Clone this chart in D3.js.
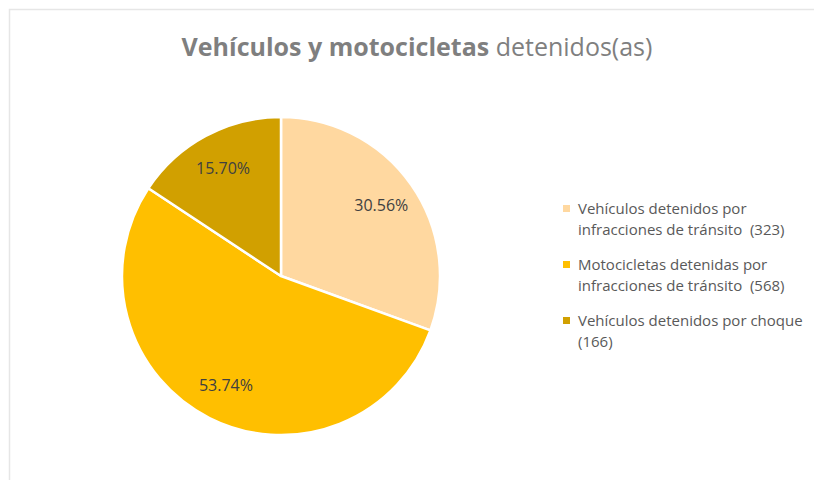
<!DOCTYPE html>
<html>
<head>
<meta charset="utf-8">
<script src="https://cdn.jsdelivr.net/npm/d3@7"></script>
<style>
  html, body { margin: 0; padding: 0; background: #fff; }
  svg { display: block; font-family: "Open Sans", "Noto Sans", sans-serif; }
</style>
</head>
<body>
<div id="chart"></div>
<script>
const categories = [
    ['Vehículos detenidos por', 'infracciones de tránsito\u00a0 (323)'],
    ['Motocicletas detenidas por', 'infracciones de tránsito\u00a0 (568)'],
    ['Vehículos detenidos por choque', '(166)'],
];
const values = [323, 568, 166];
const percentLabels = ['30.56%', '53.74%', '15.70%'];
const colors = ['#FFD8A0', '#FFBF00', '#D1A000'];

const width = 814;
const height = 480;
const cx = 281;
const cy = 276;
const radius = 159;

const svg = d3.select('#chart').append('svg')
    .attr('width', width)
    .attr('height', height);

// chart area border (only top & left visible in the crop)
svg.append('path')
    .attr('d', `M9.5,${height} V9.5 H${width}`)
    .attr('fill', 'none')
    .attr('stroke', '#e6e6e6')
    .attr('stroke-width', 1.5);

const title = svg.append('text')
    .attr('x', 417)
    .attr('y', 56)
    .attr('text-anchor', 'middle')
    .attr('fill', '#7f7f7f')
    .attr('font-size', 25);
title.append('tspan').attr('font-weight', 'bold').text('Vehículos y motocicletas');
title.append('tspan').text(' detenidos(as)');

const pie = d3.pie().sort(null).value(d => d);
const arcs = pie(values);
const arc = d3.arc().innerRadius(0).outerRadius(radius);
const labelArc = d3.arc().innerRadius(radius * 0.77).outerRadius(radius * 0.77);

const g = svg.append('g').attr('transform', `translate(${cx},${cy})`);

g.selectAll('path.slice')
    .data(arcs)
    .join('path')
    .attr('class', 'slice')
    .attr('d', arc)
    .attr('fill', (d, i) => colors[i])
    .attr('stroke', '#fff')
    .attr('stroke-width', 2.5)
    .attr('stroke-linejoin', 'round');

g.selectAll('text.pct')
    .data(arcs)
    .join('text')
    .attr('class', 'pct')
    .attr('transform', d => `translate(${labelArc.centroid(d)})`)
    .attr('text-anchor', 'middle')
    .attr('dy', '0.35em')
    .attr('font-size', 16)
    .attr('fill', '#404040')
    .text((d, i) => percentLabels[i]);

const legend = svg.append('g').attr('transform', 'translate(563,209)');
const item = legend.selectAll('g')
    .data(categories)
    .join('g')
    .attr('transform', (d, i) => `translate(0,${i * 56})`);

item.append('rect')
    .attr('x', 0).attr('y', -4)
    .attr('width', 7).attr('height', 7)
    .attr('fill', (d, i) => colors[i]);

item.append('text')
    .attr('x', 15)
    .attr('y', 5)
    .attr('font-size', 15)
    .attr('fill', '#595959')
    .selectAll('tspan')
    .data(d => d)
    .join('tspan')
    .attr('x', 15)
    .attr('dy', (d, i) => i === 0 ? 0 : 21)
    .text(d => d);
</script>
</body>
</html>
